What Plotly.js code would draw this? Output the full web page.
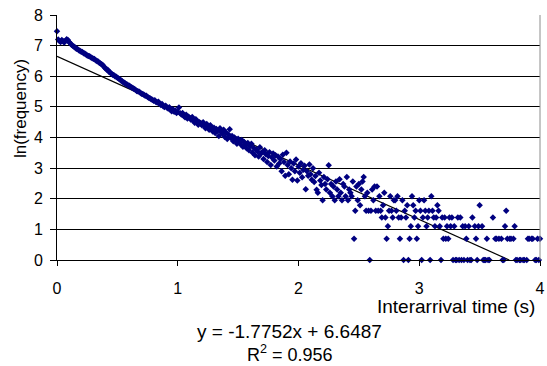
<!DOCTYPE html>
<html>
<head>
<meta charset="utf-8">
<script src="https://cdn.plot.ly/plotly-3.0.1.min.js"></script>
<style>html,body{margin:0;padding:0;background:#fff;}#chart{width:547px;height:366px;}</style>
</head>
<body>
<div id="chart"></div>
<script>
// Interarrival time (s) of each histogram bin
const timeS = [
0,0.01,0.02,0.03,0.04,0.05,0.06,0.07,0.08,0.09,
0.1,0.11,0.12,0.13,0.14,0.15,0.16,0.17,0.18,0.19,
0.2,0.21,0.22,0.23,0.24,0.25,0.26,0.27,0.28,0.29,
0.3,0.31,0.32,0.33,0.34,0.35,0.36,0.37,0.38,0.39,
0.4,0.41,0.42,0.43,0.44,0.45,0.46,0.47,0.48,0.49,
0.5,0.51,0.52,0.53,0.54,0.55,0.56,0.57,0.58,0.59,
0.6,0.61,0.62,0.63,0.64,0.65,0.66,0.67,0.68,0.69,
0.7,0.71,0.72,0.73,0.74,0.75,0.76,0.77,0.78,0.79,
0.8,0.81,0.82,0.83,0.84,0.85,0.86,0.87,0.88,0.89,
0.9,0.91,0.92,0.93,0.94,0.95,0.96,0.97,0.98,0.99,
1,1.01,1.02,1.03,1.04,1.05,1.06,1.07,1.08,1.09,
1.1,1.11,1.12,1.13,1.14,1.15,1.16,1.17,1.18,1.19,
1.2,1.21,1.22,1.23,1.24,1.25,1.26,1.27,1.28,1.29,
1.3,1.31,1.32,1.33,1.34,1.35,1.36,1.37,1.38,1.39,
1.4,1.41,1.42,1.43,1.44,1.45,1.46,1.47,1.48,1.49,
1.5,1.51,1.52,1.53,1.54,1.55,1.56,1.57,1.58,1.59,
1.6,1.61,1.62,1.63,1.64,1.65,1.66,1.67,1.68,1.69,
1.7,1.71,1.72,1.73,1.74,1.75,1.76,1.77,1.78,1.79,
1.8,1.81,1.82,1.83,1.84,1.85,1.86,1.87,1.88,1.89,
1.9,1.91,1.92,1.93,1.94,1.95,1.96,1.97,1.98,1.99,
2,2.01,2.02,2.03,2.04,2.05,2.06,2.07,2.08,2.09,
2.1,2.11,2.12,2.13,2.14,2.15,2.16,2.17,2.18,2.19,
2.2,2.21,2.22,2.23,2.24,2.25,2.26,2.27,2.28,2.29,
2.3,2.31,2.32,2.33,2.34,2.35,2.36,2.37,2.38,2.39,
2.4,2.41,2.42,2.43,2.44,2.45,2.46,2.47,2.48,2.49,
2.5,2.51,2.52,2.53,2.54,2.55,2.56,2.57,2.58,2.59,
2.6,2.61,2.62,2.63,2.64,2.65,2.66,2.67,2.68,2.69,
2.7,2.71,2.72,2.73,2.74,2.75,2.76,2.77,2.78,2.79,
2.8,2.81,2.82,2.83,2.84,2.85,2.86,2.87,2.88,2.89,
2.9,2.91,2.92,2.93,2.94,2.95,2.96,2.97,2.98,2.99,
3,3.01,3.02,3.03,3.04,3.05,3.06,3.07,3.08,3.09,
3.1,3.11,3.12,3.13,3.14,3.15,3.16,3.17,3.18,3.19,
3.2,3.21,3.22,3.23,3.24,3.25,3.26,3.27,3.28,3.29,
3.3,3.31,3.32,3.33,3.34,3.35,3.36,3.37,3.38,3.39,
3.4,3.41,3.42,3.43,3.44,3.46,3.47,3.48,3.49,
3.5,3.52,3.53,3.54,3.55,3.56,3.57,3.58,
3.61,3.63,3.64,3.66,3.68,3.69,
3.7,3.71,3.72,3.73,3.75,3.76,3.78,3.79,
3.8,3.81,3.83,3.84,3.86,3.87,3.89,
3.9,3.91,3.93,3.94,3.96,3.97,3.98,3.99,
4
];

// ln(frequency) for each bin above
const lnFreq = [
7.47,7.2,7.15,7.12,7.18,7.14,7.1,7.16,7.21,7.18,
7.12,7.08,7.03,7.0,6.97,6.94,6.9,6.89,6.85,6.83,
6.8,6.79,6.75,6.74,6.71,6.68,6.66,6.65,6.62,6.6,
6.57,6.56,6.52,6.5,6.48,6.44,6.42,6.39,6.36,6.31,
6.26,6.22,6.21,6.15,6.12,6.09,6.05,6.04,6.0,5.98,
5.95,5.93,5.9,5.86,5.84,5.8,5.79,5.75,5.73,5.7,
5.69,5.66,5.63,5.61,5.58,5.56,5.52,5.51,5.49,5.46,
5.43,5.42,5.4,5.36,5.36,5.32,5.3,5.28,5.25,5.23,
5.2,5.22,5.16,5.14,5.17,5.1,5.06,5.09,5.02,5.0,
5.04,4.98,4.95,4.99,4.9,4.86,4.92,4.84,4.88,4.8,
4.83,4.98,4.79,4.75,4.8,4.7,4.66,4.74,4.62,4.68,
4.64,4.58,4.67,4.55,4.48,4.6,4.52,4.42,4.5,4.46,
4.4,4.5,4.38,4.3,4.44,4.36,4.25,4.4,4.33,4.2,
4.32,4.15,4.28,4.22,4.05,4.3,4.18,4.12,4.25,4.02,
4.16,3.95,4.1,4.27,3.98,4.05,3.88,4.0,3.92,3.8,
3.96,3.86,3.78,3.92,3.7,3.85,3.75,3.65,3.82,3.58,
3.72,3.8,3.5,3.66,3.42,3.6,3.55,3.38,3.68,3.48,
3.53,3.3,3.58,3.45,3.2,3.4,3.52,3.1,3.35,3.48,
3.25,3.42,3.05,3.38,3.15,3.3,2.9,3.44,3.2,2.75,
3.5,3.1,2.8,3.22,3.0,2.62,3.15,2.9,3.28,2.6,
3.05,2.85,3.16,2.7,2.95,3.08,2.31,2.9,2.75,3.12,
2.8,2.62,3.0,2.55,2.74,2.29,2.2,2.85,2.6,2.45,
1.95,2.71,2.48,2.3,2.64,3.09,2.2,2.48,2.08,2.4,
1.95,2.56,2.3,2.08,2.64,2.2,1.95,2.48,2.4,2.08,
2.71,1.95,2.3,2.2,2.08,2.56,0.69,1.61,2.4,1.95,
2.48,1.79,2.3,2.56,2.71,2.08,1.61,2.2,1.61,0,
1.61,2.3,1.95,2.4,1.61,2.4,1.61,2.08,1.61,1.39,
1.79,2.2,1.39,0.69,1.1,1.61,2.08,1.61,1.39,1.95,
1.95,1.61,2.08,1.39,0.69,1.39,1.95,0,1.61,1.39,
1.79,0,0.69,1.1,2.08,1.79,1.39,1.61,0.69,1.1,
1.95,1.61,0,1.39,1.95,1.61,1.1,1.39,1.61,0,
2.08,1.61,1.39,1.1,1.39,1.79,1.61,1.1,0,1.39,
0.69,1.39,0.69,1.1,0.69,1.39,1.1,1.39,0,1.1,
0,0,1.39,0,1.39,0,1.1,0,1.1,0.69,
0,1.1,0,0,1.39,1.1,0.69,0,1.1,
1.79,1.1,0,0,0,0.69,0,0,
1.39,0.69,0.69,0.69,0.69,0,
0,1.1,1.61,0.69,0.69,0.69,0.69,1.1,
0,0,0,0,0,0,0,
0.69,0.69,0.69,0.69,0,0,0.69,0,
0.69
];

// Linear trendline reported on the chart
const trendSlope = -1.7752;
const trendIntercept = 6.6487;
const trendText = "y = -1.7752x + 6.6487";
const r2Text = "R<sup>2</sup> = 0.956";

const xTicks = [0, 1, 2, 3, 4];
const yTicks = [0, 1, 2, 3, 4, 5, 6, 7, 8];

const FONT = "Liberation Sans, Arial, sans-serif";

const xEnd = -trendIntercept / trendSlope;

const traces = [
  {
    x: [0, xEnd],
    y: [trendIntercept, trendSlope * xEnd + trendIntercept],
    mode: "lines",
    type: "scatter",
    line: { color: "#000000", width: 1.2 },
    hoverinfo: "skip",
    cliponaxis: false
  },
  {
    x: timeS,
    y: lnFreq,
    mode: "markers",
    type: "scatter",
    marker: { symbol: "diamond", size: 5, color: "#000080", line: { width: 0 } },
    cliponaxis: false
  }
];

const layout = {
  width: 547,
  height: 366,
  margin: { l: 57, r: 7, t: 15, b: 106, pad: 0 },
  paper_bgcolor: "#ffffff",
  plot_bgcolor: "#ffffff",
  showlegend: false,
  font: { family: FONT, color: "#000000" },
  xaxis: {
    range: [0, 4],
    tickmode: "array",
    tickvals: xTicks,
    ticktext: xTicks.map(String),
    ticks: "outside",
    ticklen: 5,
    tickcolor: "#000000",
    tickwidth: 1,
    showline: true,
    linecolor: "#000000",
    linewidth: 1,
    showgrid: false,
    zeroline: false,
    ticklabelstandoff: 9,
    tickfont: { family: FONT, size: 16, color: "#000000" }
  },
  yaxis: {
    range: [0, 8],
    tickmode: "array",
    tickvals: yTicks,
    ticktext: yTicks.map(String),
    ticks: "outside",
    ticklen: 6,
    tickcolor: "#000000",
    tickwidth: 1,
    showline: true,
    linecolor: "#000000",
    linewidth: 1,
    showgrid: true,
    gridcolor: "#000000",
    gridwidth: 1,
    zeroline: false,
    ticklabelstandoff: 4,
    tickfont: { family: FONT, size: 16, color: "#000000" }
  },
  shapes: [
    { type: "line", xref: "paper", yref: "paper", x0: 1, x1: 1, y0: 0, y1: 1,
      line: { color: "#8c8c8c", width: 1 } }
  ],
  annotations: [
    { text: "ln(frequency)", xref: "paper", yref: "paper", x: -0.0756, y: 0.618,
      xanchor: "center", yanchor: "middle", textangle: -90, showarrow: false,
      font: { family: FONT, size: 17, color: "#000000" } },
    { text: "Interarrival time (s)", xref: "paper", yref: "paper", x: 0.994, y: -0.188,
      xanchor: "right", yanchor: "middle", showarrow: false,
      font: { family: FONT, size: 19, color: "#000000" } },
    { text: trendText, xref: "paper", yref: "paper", x: 0.482, y: -0.29,
      xanchor: "center", yanchor: "middle", showarrow: false,
      font: { family: FONT, size: 19, color: "#000000" } },
    { text: r2Text, xref: "paper", yref: "paper", x: 0.482, y: -0.382,
      xanchor: "center", yanchor: "middle", showarrow: false,
      font: { family: FONT, size: 18, color: "#000000" } }
  ]
};

Plotly.newPlot("chart", traces, layout, { displayModeBar: false, staticPlot: true });
</script>
</body>
</html>
